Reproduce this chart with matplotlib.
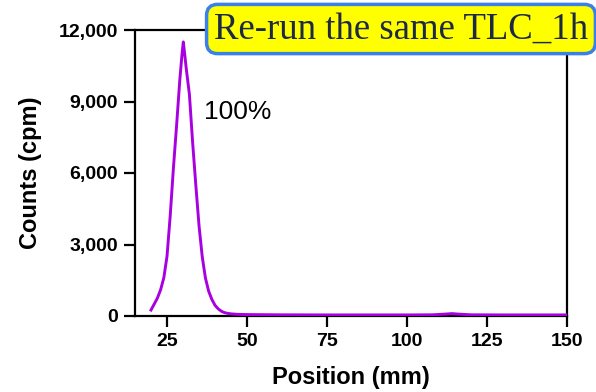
import matplotlib.pyplot as plt
from matplotlib.ticker import FuncFormatter

# TLC scan
position = [20, 21, 22, 23, 24, 25, 26, 27, 28, 29, 29.7, 30.1, 30.6, 31, 32, 33,
            34, 35, 36, 37, 38, 39, 40, 41, 42, 43, 44, 45, 47, 50, 60, 75, 90,
            100, 108, 112, 114, 116, 120, 130, 150]
counts = [250, 500, 750, 1100, 1600, 2500, 4200, 6200, 8000, 9900, 11000, 11500, 10900,
          10400, 9300, 7300, 5500, 3800, 2500, 1600, 1050, 700, 450, 300, 200, 140,
          110, 90, 70, 60, 50, 45, 45, 45, 50, 80, 100, 80, 50, 45, 45]
x_ticks = [25, 50, 75, 100, 125, 150]
y_ticks = [0, 3000, 6000, 9000, 12000]

sans = 'Liberation Sans'

fig = plt.figure(figsize=(5.96, 3.92), dpi=100)
ax = fig.add_axes([135 / 596, 76 / 392, 432 / 596, 286 / 392])

ax.plot(position, counts, color='#A800E0', linewidth=2.1, zorder=3)

ax.set_xlim(15, 150)
ax.set_ylim(0, 12000)
ax.set_xticks(x_ticks)
ax.set_yticks(y_ticks)
ax.yaxis.set_major_formatter(FuncFormatter(lambda v, p: f'{int(v):,}'))

for s in ax.spines.values():
    s.set_linewidth(1.6)
ax.tick_params(length=8, width=1.6, pad=4)
for lab in ax.get_xticklabels() + ax.get_yticklabels():
    lab.set_fontfamily(sans)
    lab.set_fontweight('bold')
    lab.set_fontsize(14)

ax.set_xlabel('Position (mm)', fontfamily=sans, fontweight='bold', fontsize=17, labelpad=12)
ax.set_ylabel('Counts (cpm)', fontfamily=sans, fontweight='bold', fontsize=17, labelpad=12)

ax.text(36.5, 8570, '100%', fontfamily=sans, fontsize=19, ha='left', va='center')

fig.text(401 / 596, 1 - 29 / 392, 'Re-run the same TLC_1h', fontfamily='Liberation Serif',
         fontsize=26.5, color='#1c2a44', ha='center', va='center',
         bbox=dict(boxstyle='round,pad=0.2,rounding_size=0.3', facecolor='#FFFF00',
                   edgecolor='#3A80E8', linewidth=2.5))

plt.savefig('out.png', dpi=100)
